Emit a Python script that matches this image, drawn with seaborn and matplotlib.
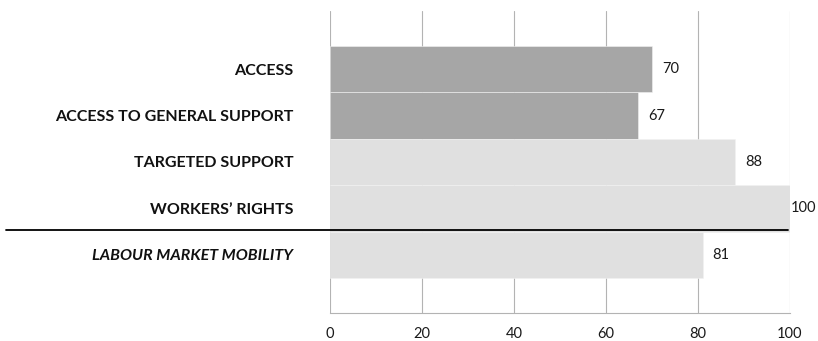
import matplotlib
matplotlib.use("Agg")
import matplotlib.pyplot as plt
import matplotlib.transforms as mtransforms
import seaborn as sns
import pandas as pd

categories = ["ACCESS", "ACCESS TO GENERAL SUPPORT", "TARGETED SUPPORT",
              "WORKERS\u2019 RIGHTS", "LABOUR MARKET MOBILITY"]
scores = [70, 67, 88, 100, 81]
groups = ["access", "access", "other", "other", "other"]
x_ticks = [0, 20, 40, 60, 80, 100]

palette = {"access": "#a6a6a6", "other": "#e0e0e0"}

sns.set_theme(style="white")
plt.rcParams["font.family"] = ["Lato", "DejaVu Sans"]

df = pd.DataFrame({"category": categories, "score": scores, "group": groups})

fig = plt.figure(figsize=(8.18, 3.41), dpi=100)
ax = fig.add_axes([330 / 818, 28 / 341, 460 / 818, 302 / 341])

sns.barplot(data=df, x="score", y="category", hue="group", palette=palette,
            order=categories, dodge=False, width=1.0, legend=False,
            edgecolor="#f2f2f2", linewidth=0.4, ax=ax, zorder=2)

ax.set_xlim(0, 100)
ax.set_ylim(len(categories) - 0.5 + 0.755, -0.5 - 0.755)
ax.set_xticks(x_ticks)
ax.set_xticklabels([str(t) for t in x_ticks], fontsize=10.5, color="#1a1a1a")
ax.xaxis.grid(True, color="#b3b3b3", linewidth=0.8, zorder=0)
ax.yaxis.grid(False)
ax.set_xlabel("")
ax.set_ylabel("")

for side in ["top", "right", "left"]:
    ax.spines[side].set_visible(False)
ax.spines["bottom"].set_color("#b3b3b3")
ax.spines["bottom"].set_linewidth(0.8)
ax.tick_params(axis="x", direction="out", length=5, width=0.8, color="#b3b3b3",
               pad=5)
ax.tick_params(axis="y", length=0, pad=26.5)

for lbl in ax.get_yticklabels():
    lbl.set_fontweight("bold")
    lbl.set_fontsize(11.5)
    lbl.set_color("#111111")
    if lbl.get_text() == "LABOUR MARKET MOBILITY":
        lbl.set_fontstyle("italic")

# value labels next to each bar
for i, v in enumerate(scores):
    off = 1 if v >= 100 else 10
    ax.annotate(str(v), xy=(v, i), xytext=(off, 0), textcoords="offset pixels",
                va="center", ha="left", fontsize=10.5, color="#1a1a1a",
                annotation_clip=False)

# separator between the components and the overall indicator
trans = mtransforms.blended_transform_factory(ax.transAxes, ax.transData)
ax.plot([-0.704, 0.996], [3.47, 3.47], color="black", linewidth=1.3,
        transform=trans, clip_on=False, zorder=5)

fig.savefig("out.png", dpi=100)
